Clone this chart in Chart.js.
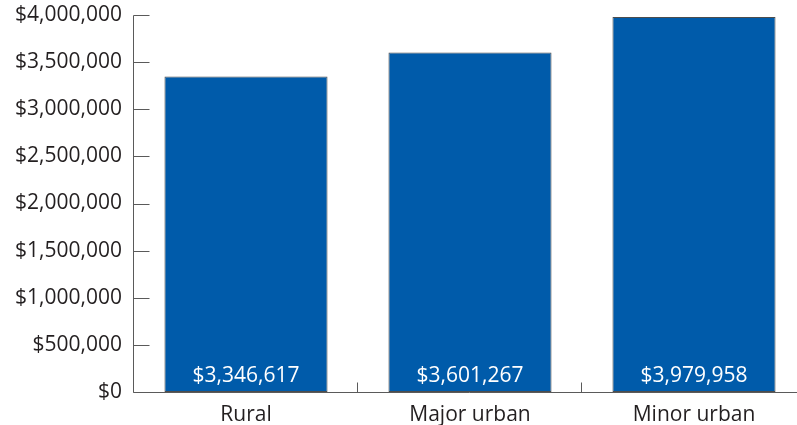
<!DOCTYPE html>
<html>
<head>
<meta charset="utf-8">
<script src="https://cdn.jsdelivr.net/npm/chart.js@4/dist/chart.umd.min.js"></script>
<style>
  html, body { margin: 0; padding: 0; background: #fff; overflow: hidden; }
  #wrap { position: relative; width: 806px; height: 425px; }
</style>
</head>
<body>
<div id="wrap"><canvas id="c"></canvas></div>
<script>
// Average value by area type
const categories = ['Rural', 'Major urban', 'Minor urban'];
const values = [3346617, 3601267, 3979958];
const yTickStep = 500000;
const yMax = 4000000;

const FONT = '"Open Sans", "Noto Sans", sans-serif';
const TEXT = '#231f20';
const AXIS = '#5a5a5a';
const BAR = '#005baa';

const money = v => '$' + Math.round(v).toLocaleString('en-US');

// Axis lines with ticks pointing into the plot area
const axesPlugin = {
  id: 'innerAxes',
  afterDatasetsDraw(chart) {
    const { ctx, chartArea, scales } = chart;
    const x = scales.x, y = scales.y;
    const left = Math.round(chartArea.left) - 0.5;
    const bottom = Math.round(y.getPixelForValue(0)) + 0.5;
    ctx.save();
    ctx.strokeStyle = AXIS;
    ctx.lineWidth = 1;
    ctx.beginPath();
    // y axis
    ctx.moveTo(left, Math.round(y.getPixelForValue(yMax)) + 0.5);
    ctx.lineTo(left, bottom);
    // x axis
    ctx.moveTo(left, bottom);
    ctx.lineTo(chartArea.right, bottom);
    // y ticks
    for (let v = 0; v <= yMax; v += yTickStep) {
      const py = Math.round(y.getPixelForValue(v)) + 0.5;
      ctx.moveTo(left, py);
      ctx.lineTo(left + 16, py);
    }
    // x ticks between categories
    for (let i = 1; i < categories.length; i++) {
      const px = Math.round((x.getPixelForValue(i - 1) + x.getPixelForValue(i)) / 2) - 0.5;
      ctx.moveTo(px, bottom);
      ctx.lineTo(px, bottom - 10);
    }
    ctx.stroke();
    ctx.restore();
  }
};

// Value written inside each bar near its base
const valueLabels = {
  id: 'valueLabels',
  afterDatasetsDraw(chart) {
    const { ctx, scales } = chart;
    const meta = chart.getDatasetMeta(0);
    const base = scales.y.getPixelForValue(0);
    ctx.save();
    ctx.fillStyle = '#ffffff';
    ctx.font = '21px ' + FONT;
    ctx.textAlign = 'center';
    ctx.textBaseline = 'middle';
    meta.data.forEach((bar, i) => {
      ctx.fillText(money(values[i]), bar.x, base - 16);
    });
    ctx.restore();
  }
};

new Chart(document.getElementById('c'), {
  type: 'bar',
  data: {
    labels: categories,
    datasets: [{
      data: values,
      backgroundColor: BAR,
      borderColor: '#4d4d4d',
      borderWidth: 1,
      borderSkipped: false,
      barPercentage: 0.728,
      categoryPercentage: 1.0
    }]
  },
  options: {
    responsive: true,
    maintainAspectRatio: false,
    animation: false,
    layout: { padding: { top: 15, right: 0, bottom: 0, left: 0 } },
    plugins: { legend: { display: false }, tooltip: { enabled: false } },
    scales: {
      x: {
        grid: { display: false, drawTicks: false },
        border: { display: false },
        ticks: { color: TEXT, font: { family: FONT, size: 21 }, padding: 10, maxRotation: 0 },
        afterFit(scale) {
          scale.height = 33;
          scale.paddingLeft = 0;
          scale.paddingRight = 0;
        }
      },
      y: {
        min: 0,
        max: yMax,
        grid: { display: false, drawTicks: false },
        border: { display: false },
        ticks: {
          stepSize: yTickStep,
          color: TEXT,
          font: { family: FONT, size: 21 },
          padding: 12,
          callback: v => money(v)
        },
        afterFit(scale) {
          scale.width = 134;
          scale.paddingTop = 0;
          scale.paddingBottom = 0;
        }
      }
    }
  },
  plugins: [axesPlugin, valueLabels]
});
</script>
</body>
</html>
